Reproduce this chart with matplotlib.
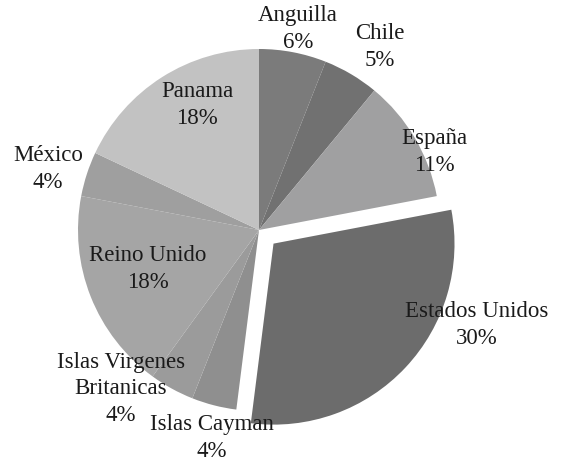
import matplotlib
matplotlib.use("Agg")
import matplotlib.pyplot as plt

countries = ["Anguilla", "Chile", "España", "Estados Unidos", "Islas Cayman",
             "Islas Virgenes\nBritanicas", "Reino Unido", "México", "Panama"]
shares = [6, 5, 11, 30, 4, 4, 18, 4, 18]
colors = ["#7b7b7b", "#717171", "#a0a0a1", "#6c6c6c", "#8f8f8f",
          "#9b9b9b", "#a5a5a5", "#9f9f9f", "#c2c2c2"]
explode = [0, 0, 0, 0.11, 0, 0, 0, 0, 0]

# label centres in pixel coordinates of the 566x464 image
label_px = [(298, 29), (380, 47), (434, 152), (477, 325), (212, 438),
            (121, 389), (148, 269), (48, 169), (197, 105)]

W, H = 566, 464
CX, CY, R = 259, 231, 181

fig = plt.figure(figsize=(W / 100, H / 100), dpi=100)
ax = fig.add_axes([0, 0, 1, 1])
ax.pie(shares, colors=colors, explode=explode, startangle=90,
       counterclock=False, radius=1, wedgeprops=dict(linewidth=0))
ax.set_xlim(-CX / R, (W - CX) / R)
ax.set_ylim((CY - H) / R, CY / R)
ax.set_aspect("equal")
ax.axis("off")

for name, val, (px, py) in zip(countries, shares, label_px):
    x = (px - CX) / R
    y = (CY - py) / R
    ax.text(x, y, f"{name}\n{val}%", ha="center", va="center",
            fontsize=16.5, family="Liberation Serif", color="#1a1a1a",
            linespacing=1.35)

fig.savefig("out.png", dpi=100)
